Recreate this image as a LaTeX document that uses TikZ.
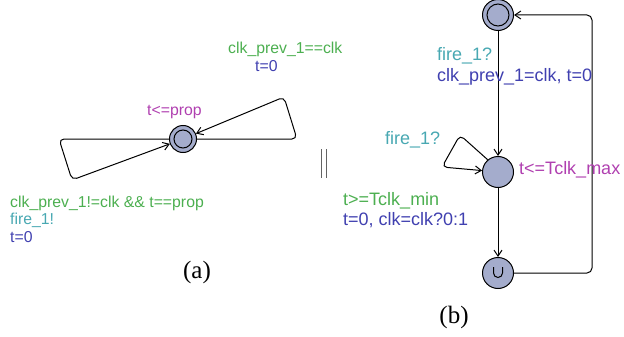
\documentclass[tikz,border=0pt]{standalone}
\usepackage{fontspec}
\setmainfont{Liberation Serif}
\setsansfont{Liberation Sans}
\usepackage{xcolor}
\usetikzlibrary{arrows.meta}
\definecolor{guardgreen}{RGB}{76,175,80}
\definecolor{synccyan}{RGB}{72,168,178}
\definecolor{updateblue}{RGB}{64,64,176}
\definecolor{invpurple}{RGB}{176,64,176}
\definecolor{locfill}{RGB}{164,172,204}
\definecolor{sepgray}{RGB}{100,100,100}

\begin{document}
\begin{tikzpicture}[x=1pt,y=1pt,
		loc/.style={circle,draw,line width=1pt,fill=locfill,inner sep=0pt},
		edge/.style={line width=1pt,rounded corners=5pt,-{Straight Barb[length=6pt,width=8pt]}},
		lbla/.style={font=\sffamily\fontsize{15.8}{18}\selectfont,inner sep=0pt,anchor=west,text height=1.6ex,text depth=.3ex},
		lblb/.style={font=\sffamily\fontsize{18}{21}\selectfont,inner sep=0pt,anchor=west,text height=1.6ex,text depth=.3ex},
		capt/.style={font=\fontsize{25}{28}\selectfont,inner sep=0pt}]
		
		% The canvas
		\useasboundingbox (0,-337) rectangle (624,0);
		
		% (a) one location with two self loops
		\node[loc,minimum size=27pt] (P) at (183,-139) {};
		\draw[line width=1pt] (P) circle (9pt);
		\draw[edge] (P.east) -- (297,-139) -- (284,-97) -- (P);
		\draw[edge] (P.west) -- (59,-139) -- (72,-180) -- (P);
		
		\node[lbla,text=guardgreen] (ga) at (228,-51) {clk\_prev\_1==clk};
		\node[lbla,text=updateblue] (ua) at (255,-69) {t=0};
		\node[lbla,text=invpurple] (ia) at (147,-113) {t<=prop};
		\node[lbla,text=guardgreen] (gb) at (10,-205) {clk\_prev\_1!=clk \&\& t==prop};
		\node[lbla,text=synccyan] (sb) at (10,-222) {fire\_1!};
		\node[lbla,text=updateblue] (ub) at (10,-240) {t=0};
		
		\node[capt] (cap a) at (197,-272) {(a)};
		
		% Parallel composition bars
		\draw[sepgray,line width=1.2pt] (321.7,-149) -- (321.7,-178);
		\draw[sepgray,line width=1.2pt] (326.3,-149) -- (326.3,-178);
		
		% (b) three locations
		\node[loc,minimum size=31pt] (T) at (498,-15) {};
		\draw[line width=1pt] (T) circle (11pt);
		\node[loc,minimum size=31pt] (M) at (498,-172) {};
		\node[loc,minimum size=31pt] (B) at (498,-273) {};
		\draw[line width=1pt] (493.5,-267) -- (493.5,-273) arc[start angle=180,end angle=360,radius=4.5pt] -- (502.5,-267);
		
		\draw[edge] (T) -- (M);
		\draw[edge] (M) -- (B);
		\draw[edge] (B.east) -- (592,-273) -- (592,-15) -- (T);
		\draw[edge] (M.130) -- (460,-135) -- (442,-167) -- (M);
		
		\node[lblb,text=synccyan] (sc) at (437,-58) {fire\_1?};
		\node[lblb,text=updateblue] (uc) at (437,-79) {clk\_prev\_1=clk, t=0};
		\node[lblb,text=synccyan] (sd) at (385,-142) {fire\_1?};
		\node[lblb,text=invpurple] (ib) at (519,-172) {t<=Tclk\_max};
		\node[lblb,text=guardgreen] (ge) at (343,-203) {t>=Tclk\_min};
		\node[lblb,text=updateblue] (ue) at (343,-223) {t=0, clk=clk?0:1};
		
		\node[capt] (cap b) at (454,-317) {(b)};
		
	\end{tikzpicture}
\end{document}
